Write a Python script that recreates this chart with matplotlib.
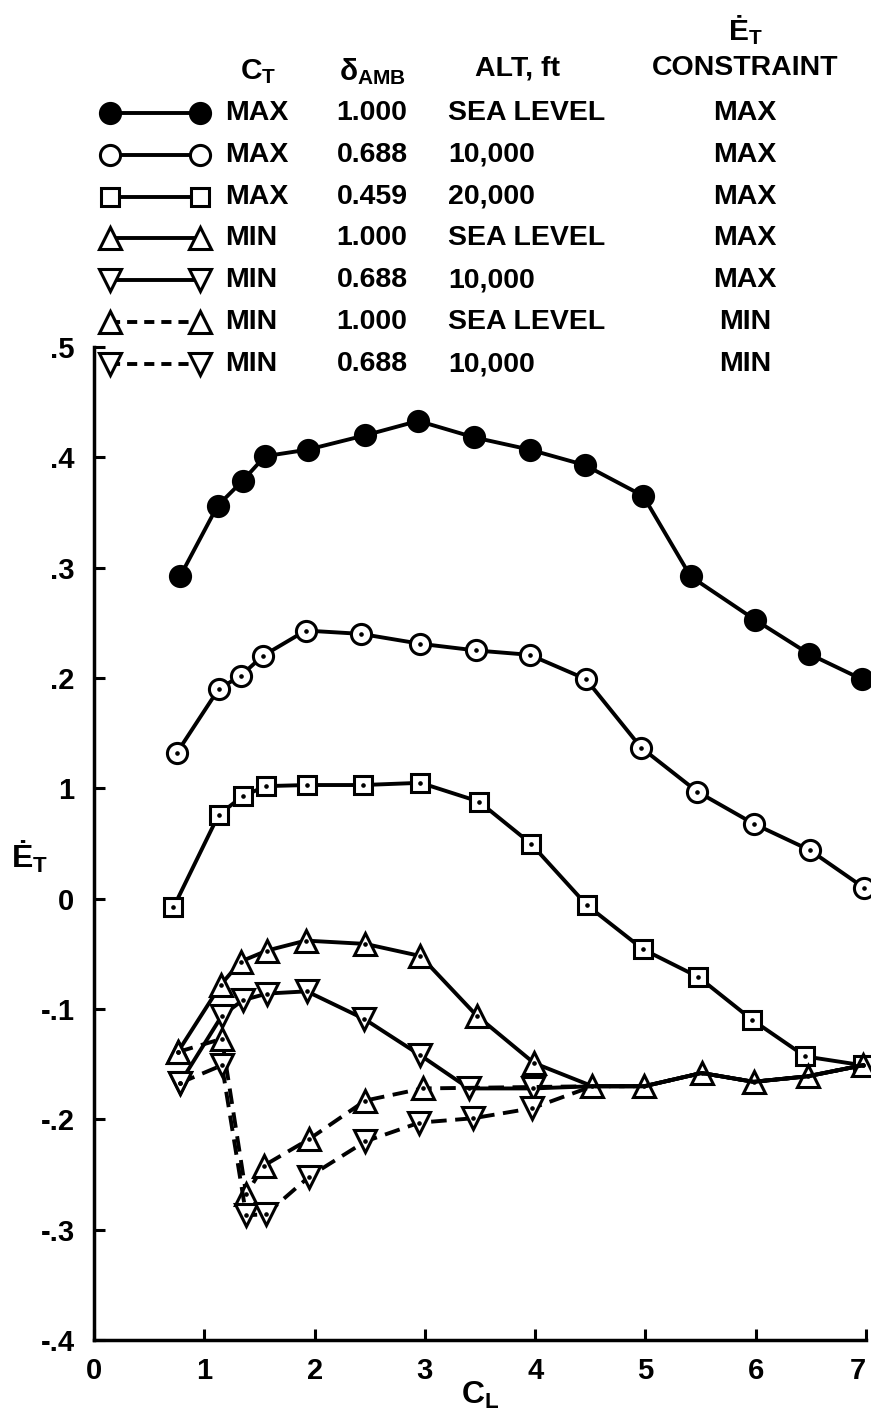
import matplotlib
matplotlib.use('Agg')
import matplotlib.pyplot as plt
from matplotlib import font_manager

names = {f.name for f in font_manager.fontManager.ttflist}
FONT = 'Liberation Sans' if 'Liberation Sans' in names else 'DejaVu Sans'
plt.rcParams['font.family'] = [FONT, 'DejaVu Sans']
plt.rcParams['font.weight'] = 'bold'
plt.rcParams['mathtext.fontset'] = 'custom'
plt.rcParams['mathtext.rm'] = FONT + ':bold'
plt.rcParams['mathtext.it'] = FONT + ':bold'
plt.rcParams['mathtext.bf'] = FONT + ':bold'

# ---------------- data ----------------
x_max_sl = [0.078, 0.112, 0.135, 0.155, 0.194, 0.246, 0.294, 0.345, 0.395, 0.445, 0.498, 0.541, 0.599, 0.648, 0.696]
y_max_sl = [0.292, 0.356, 0.379, 0.401, 0.407, 0.420, 0.433, 0.418, 0.407, 0.393, 0.365, 0.292, 0.253, 0.222, 0.199]

x_max_10k = [0.075, 0.113, 0.133, 0.153, 0.192, 0.242, 0.296, 0.346, 0.395, 0.446, 0.496, 0.547, 0.598, 0.649, 0.698]
y_max_10k = [0.132, 0.190, 0.202, 0.220, 0.243, 0.240, 0.231, 0.225, 0.221, 0.199, 0.137, 0.097, 0.068, 0.044, 0.010]

x_max_20k = [0.072, 0.113, 0.135, 0.156, 0.193, 0.244, 0.296, 0.349, 0.396, 0.447, 0.498, 0.548, 0.597, 0.645, 0.697]
y_max_20k = [-0.008, 0.076, 0.093, 0.102, 0.103, 0.103, 0.105, 0.088, 0.050, -0.006, -0.046, -0.071, -0.110, -0.143, -0.151]

x_min_sl_max = [0.076, 0.115, 0.133, 0.157, 0.192, 0.246, 0.296, 0.347, 0.399, 0.452, 0.499, 0.551, 0.598, 0.647, 0.697]
y_min_sl_max = [-0.139, -0.078, -0.057, -0.047, -0.038, -0.041, -0.052, -0.106, -0.149, -0.170, -0.170, -0.158, -0.166, -0.161, -0.151]

x_min_10k_max = [0.078, 0.116, 0.135, 0.157, 0.193, 0.245, 0.296, 0.340, 0.398, 0.452, 0.499, 0.551, 0.598, 0.647, 0.697]
y_min_10k_max = [-0.167, -0.106, -0.092, -0.086, -0.084, -0.109, -0.142, -0.172, -0.172, -0.170, -0.170, -0.158, -0.166, -0.161, -0.151]

x_min_sl_min = [0.076, 0.116, 0.138, 0.154, 0.195, 0.246, 0.298, 0.452, 0.499, 0.551, 0.598, 0.647, 0.697]
y_min_sl_min = [-0.139, -0.127, -0.268, -0.242, -0.218, -0.183, -0.172, -0.170, -0.170, -0.158, -0.166, -0.161, -0.151]

x_min_10k_min = [0.078, 0.116, 0.138, 0.156, 0.195, 0.246, 0.295, 0.344, 0.397, 0.452, 0.499, 0.551, 0.598, 0.647, 0.697]
y_min_10k_min = [-0.167, -0.151, -0.287, -0.286, -0.252, -0.220, -0.203, -0.199, -0.190, -0.170, -0.170, -0.158, -0.166, -0.161, -0.151]

ct_labels = ['MAX', 'MAX', 'MAX', 'MIN', 'MIN', 'MIN', 'MIN']
delta_labels = ['1.000', '0.688', '0.459', '1.000', '0.688', '1.000', '0.688']
alt_labels = ['SEA LEVEL', '10,000', '20,000', 'SEA LEVEL', '10,000', 'SEA LEVEL', '10,000']
constraint_labels = ['MAX', 'MAX', 'MAX', 'MAX', 'MAX', 'MIN', 'MIN']

x_ticks = [0.0, 0.1, 0.2, 0.3, 0.4, 0.5, 0.6, 0.7]
x_ticklabels = ['0', '1', '2', '3', '4', '5', '6', '7']
y_ticks = [0.5, 0.4, 0.3, 0.2, 0.1, 0.0, -0.1, -0.2, -0.3, -0.4]
y_ticklabels = ['.5', '.4', '.3', '.2', '1', '0', '-.1', '-.2', '-.3', '-.4']

# ---------------- styles ----------------
series = [
    (x_max_sl, y_max_sl, 'o', 'k', '-', None),
    (x_max_10k, y_max_10k, 'o', 'w', '-', None),
    (x_max_20k, y_max_20k, 's', 'w', '-', None),
    (x_min_sl_max, y_min_sl_max, '^', 'w', '-', None),
    (x_min_10k_max, y_min_10k_max, 'v', 'w', '-', list(range(9))),
    (x_min_sl_min, y_min_sl_min, '^', 'w', '--', list(range(7))),
    (x_min_10k_min, y_min_10k_min, 'v', 'w', '--', list(range(9))),
]
msize = {'o': 14.5, 's': 13.5, '^': 15.5, 'v': 15.5}
LW = 2.8
MEW = 2.2
DASH = (4.0, 2.2)

W, H = 871, 1421
fig = plt.figure(figsize=(W / 100, H / 100), dpi=100)
ax = fig.add_axes([94 / W, 1 - 1340 / H, (866 - 94) / W, (1340 - 347) / H])
ax.set_xlim(0, 0.7)
ax.set_ylim(-0.4, 0.5)

for i, (xs, ys, m, fc, ls, mev) in enumerate(series):
    kw = dict(color='k', lw=LW, marker=m, ms=msize[m], mfc=fc, mec='k', mew=MEW,
              clip_on=False, zorder=3 + i * 0.1)
    if ls == '--':
        kw['dashes'] = DASH
    if mev is not None:
        kw['markevery'] = mev
    ax.plot(xs, ys, **kw)
    if fc == 'w':
        xd = xs if mev is None else [xs[j] for j in mev]
        yd = ys if mev is None else [ys[j] for j in mev]
        ax.plot(xd, yd, ls='none', marker='o', ms=2.3, color='k', clip_on=False, zorder=4)

for s in ['top', 'right']:
    ax.spines[s].set_visible(False)
for s in ['left', 'bottom']:
    ax.spines[s].set_linewidth(2.5)
ax.set_xticks(x_ticks)
ax.set_xticklabels(x_ticklabels)
ax.set_yticks(y_ticks)
ax.set_yticklabels(y_ticklabels)
ax.tick_params(direction='in', length=8, width=2.2, labelsize=21)
ax.tick_params(axis='y', pad=14)
ax.tick_params(axis='x', pad=12)
ax.get_xticklabels()[-1].set_horizontalalignment('right')

fig.text(30 / W, 1 - 857 / H, r'$\mathrm{Ė}_{\mathrm{T}}$', fontsize=23, ha='center', va='center')
fig.text(480 / W, 1 - 1395 / H, r'$\mathrm{C}_{\mathrm{L}}$', fontsize=23, ha='center', va='center')

# ---------------- legend table ----------------
lax = fig.add_axes([0, 0, 1, 1], zorder=5)
lax.set_xlim(0, W)
lax.set_ylim(H, 0)
lax.axis('off')
lax.patch.set_alpha(0)

FS = 20.5
lax.text(258, 72, r'$\mathrm{C}_{\mathrm{T}}$', fontsize=FS + 1, ha='center', va='center')
lax.text(372, 72, r'$\delta_{\mathrm{AMB}}$', fontsize=FS + 1, ha='center', va='center')
lax.text(517, 68, 'ALT, ft', fontsize=FS, ha='center', va='center')
lax.text(745, 30, r'$\mathrm{Ė}_{\mathrm{T}}$', fontsize=FS + 1, ha='center', va='center')
lax.text(745, 68, 'CONSTRAINT', fontsize=FS, ha='center', va='center')

row_y = [113, 155, 197, 238, 280, 322, 364]
for i, (xs, ys, m, fc, ls, mev) in enumerate(series):
    y = row_y[i]
    kw = dict(color='k', lw=LW, marker=m, ms=msize[m], mfc=fc, mec='k', mew=MEW)
    if ls == '--':
        kw['dashes'] = (2.6, 1.8)
    lax.plot([110, 200], [y, y], **kw)
    lax.text(225, y, ct_labels[i], fontsize=FS, ha='left', va='center')
    lax.text(372, y, delta_labels[i], fontsize=FS, ha='center', va='center')
    lax.text(448, y, alt_labels[i], fontsize=FS, ha='left', va='center')
    lax.text(745, y, constraint_labels[i], fontsize=FS, ha='center', va='center')

fig.savefig('out.png', dpi=100)
